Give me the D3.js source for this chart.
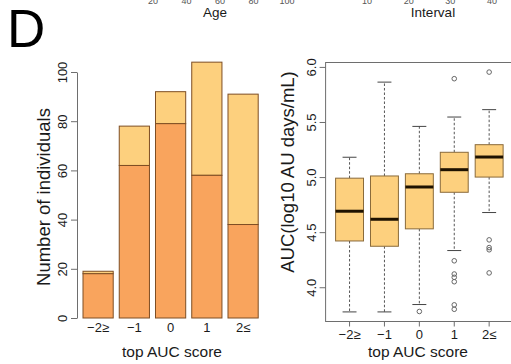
<!DOCTYPE html>
<html><head><meta charset="utf-8">
<script src="https://cdnjs.cloudflare.com/ajax/libs/d3/7.8.5/d3.min.js"></script>
<style>
html,body{margin:0;padding:0;background:#fff;}
svg{display:block;font-family:"Liberation Sans",Arial,Helvetica,sans-serif;}
</style></head>
<body><svg id="c" width="511" height="364"></svg>
<script>
// ---- data ----
const categories = ["\u22122\u2265", "\u22121", "0", "1", "2\u2264"];
const lowerCounts = [18, 62, 79, 58, 38];
const totalCounts = [19, 78, 92, 104, 91];
const barTicks = [0, 20, 40, 60, 80, 100];

const whiskerLow  = [3.776, 3.776, 3.843, 4.333, 4.678];
const q1          = [4.42, 4.372, 4.53, 4.862, 5.0];
const medians     = [4.69, 4.617, 4.91, 5.067, 5.182];
const q3          = [4.99, 5.01, 5.03, 5.225, 5.294];
const whiskerHigh = [5.18, 5.862, 5.46, 5.545, 5.612];
const outliers = [
  [],
  [],
  [3.78],
  [5.893, 4.24, 4.12, 4.09, 4.05, 3.84, 3.80],
  [5.953, 4.43, 4.36, 4.34, 4.13]
];
const boxTicks = [4.0, 4.5, 5.0, 5.5, 6.0];

// cut-off remnants of panels above
const ageTicks = [20, 40, 60, 80, 100];
const intervalTicks = [10, 20, 30, 40];

const svg = d3.select("#c");
const darkOrange = "#F9A45D", lightOrange = "#FDD07E", barStroke = "#7E4E24";
const axisCol = "#6e6e6e", textCol = "#1a1a1a";

// ---- remnants at top ----
const ageX = d3.scaleLinear().domain([20, 100]).range([153, 287]);
svg.append("g").selectAll("text").data(ageTicks).join("text")
  .attr("x", d => ageX(d)).attr("y", 4).attr("text-anchor", "middle")
  .attr("font-size", 9).attr("fill", "#555").text(d => d);
const intX = d3.scaleLinear().domain([10, 40]).range([367, 492]);
svg.append("g").selectAll("text").data(intervalTicks).join("text")
  .attr("x", d => intX(d)).attr("y", 4).attr("text-anchor", "middle")
  .attr("font-size", 9).attr("fill", "#555").text(d => d);
svg.append("text").attr("x", 215).attr("y", 17).attr("text-anchor", "middle")
  .attr("font-size", 13.5).attr("fill", textCol).text("Age");
svg.append("text").attr("x", 433).attr("y", 17).attr("text-anchor", "middle")
  .attr("font-size", 13.5).attr("fill", textCol).text("Interval");

svg.append("text").attr("x", 7).attr("y", 47).attr("font-size", 53)
  .attr("fill", "#000").text("D");

// ---- left: stacked bar chart ----
const xb = d3.scaleBand().domain(categories).range([83, 258.2]).paddingInner(1/6).paddingOuter(0);
const yb = d3.scaleLinear().domain([0, 100]).range([318, 72]);

const gb = svg.append("g");
categories.forEach((c, i) => {
  gb.append("rect").attr("x", xb(c)).attr("width", xb.bandwidth())
    .attr("y", yb(totalCounts[i])).attr("height", yb(lowerCounts[i]) - yb(totalCounts[i]))
    .attr("fill", lightOrange).attr("stroke", barStroke).attr("stroke-width", 1);
  gb.append("rect").attr("x", xb(c)).attr("width", xb.bandwidth())
    .attr("y", yb(lowerCounts[i])).attr("height", yb(0) - yb(lowerCounts[i]))
    .attr("fill", darkOrange).attr("stroke", barStroke).attr("stroke-width", 1);
});

const yAxisB = gb.append("g").attr("transform", "translate(77,0)")
  .call(d3.axisLeft(yb).tickValues(barTicks).tickSize(6).tickSizeOuter(0).tickFormat(d3.format("d")));
yAxisB.select(".domain").attr("stroke", axisCol);
yAxisB.selectAll(".tick line").attr("stroke", axisCol);
yAxisB.selectAll(".tick text").attr("font-size", 13).attr("fill", textCol)
  .attr("transform", "rotate(-90)").attr("x", 0).attr("y", -10)
  .attr("dy", 0).attr("text-anchor", "middle");

gb.append("g").selectAll("text").data(categories).join("text")
  .attr("x", d => xb(d) + xb.bandwidth() / 2).attr("y", 332)
  .attr("text-anchor", "middle").attr("font-size", 13).attr("fill", textCol).text(d => d);
gb.append("text").attr("x", 172).attr("y", 357).attr("text-anchor", "middle")
  .attr("font-size", 15.5).attr("fill", textCol).text("top AUC score");
gb.append("text").attr("transform", "translate(50,197) rotate(-90)")
  .attr("text-anchor", "middle").attr("font-size", 18.5).attr("fill", textCol)
  .text("Number of individuals");

// ---- right: box plot ----
const xp = d3.scaleBand().domain(categories).range([332.1, 506.6]).paddingInner(0.2).paddingOuter(0.1);
const yp = d3.scaleLinear().domain([3.689, 6.04]).range([321.5, 62.5]);
const gp = svg.append("g");
const bw = xp.bandwidth();

gp.append("rect").attr("x", 325.6).attr("y", yp(6.04)).attr("width", 200)
  .attr("height", yp(3.689) - yp(6.04)).attr("fill", "none").attr("stroke", axisCol);

categories.forEach((c, i) => {
  const cx = xp(c) + bw / 2;
  gp.append("line").attr("x1", cx).attr("x2", cx).attr("y1", yp(q3[i])).attr("y2", yp(whiskerHigh[i]))
    .attr("stroke", "#555").attr("stroke-dasharray", "2.5,2");
  gp.append("line").attr("x1", cx).attr("x2", cx).attr("y1", yp(q1[i])).attr("y2", yp(whiskerLow[i]))
    .attr("stroke", "#555").attr("stroke-dasharray", "2.5,2");
  [whiskerHigh[i], whiskerLow[i]].forEach(v => {
    gp.append("line").attr("x1", cx - bw / 4).attr("x2", cx + bw / 4).attr("y1", yp(v)).attr("y2", yp(v))
      .attr("stroke", "#444");
  });
  gp.append("rect").attr("x", xp(c)).attr("width", bw).attr("y", yp(q3[i]))
    .attr("height", yp(q1[i]) - yp(q3[i])).attr("fill", lightOrange).attr("stroke", "#8a6a3a");
  gp.append("line").attr("x1", xp(c)).attr("x2", xp(c) + bw).attr("y1", yp(medians[i])).attr("y2", yp(medians[i]))
    .attr("stroke", "#1e1200").attr("stroke-width", 3);
  gp.append("g").selectAll("circle").data(outliers[i]).join("circle")
    .attr("cx", cx).attr("cy", d => yp(d)).attr("r", 2.3)
    .attr("fill", "none").attr("stroke", "#666");
});

const yAxisP = gp.append("g").attr("transform", "translate(325.6,0)")
  .call(d3.axisLeft(yp).tickValues(boxTicks).tickSize(6).tickFormat(d3.format(".1f")));
yAxisP.select(".domain").remove();
yAxisP.selectAll(".tick line").attr("stroke", axisCol);
yAxisP.selectAll(".tick text").attr("font-size", 13).attr("fill", textCol)
  .attr("transform", "rotate(-90)").attr("x", 0).attr("y", -10)
  .attr("dy", 0).attr("text-anchor", "middle");

const xAxisP = gp.append("g").attr("transform", "translate(0,321.5)")
  .call(d3.axisBottom(xp).tickSize(5).tickSizeOuter(0));
xAxisP.select(".domain").remove();
xAxisP.selectAll(".tick line").attr("stroke", axisCol);
xAxisP.selectAll(".tick text").attr("font-size", 13).attr("fill", textCol).attr("y", 6).attr("dy", "0.85em");

gp.append("text").attr("x", 418).attr("y", 357).attr("text-anchor", "middle")
  .attr("font-size", 15.5).attr("fill", textCol).text("top AUC score");
gp.append("text").attr("transform", "translate(294,172) rotate(-90)")
  .attr("text-anchor", "middle").attr("font-size", 18.5).attr("fill", textCol)
  .text("AUC(log10 AU days/mL)");
svg.selectAll("g").attr("font-family", null);
</script></body></html>
